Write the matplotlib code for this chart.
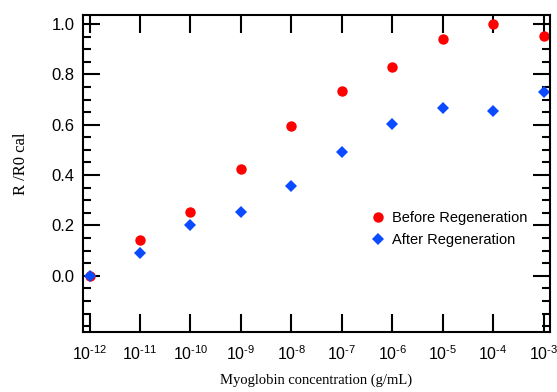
import matplotlib
matplotlib.use("Agg")
import matplotlib.pyplot as plt
from matplotlib.ticker import FixedLocator, MultipleLocator, NullLocator

# data
conc = [1e-12, 1e-11, 1e-10, 1e-9, 1e-8, 1e-7, 1e-6, 1e-5, 1e-4, 1e-3]
before = [0.0, 0.142, 0.253, 0.424, 0.595, 0.734, 0.828, 0.939, 1.0, 0.951]
after = [0.0, 0.09, 0.20, 0.253, 0.356, 0.491, 0.603, 0.666, 0.654, 0.730]
xtick_exps = [-12, -11, -10, -9, -8, -7, -6, -5, -4, -3]
yticks = [0.0, 0.2, 0.4, 0.6, 0.8, 1.0]

plt.rcParams['font.family'] = ['Liberation Sans', 'DejaVu Sans']
plt.rcParams['mathtext.fontset'] = 'custom'
plt.rcParams['mathtext.rm'] = 'Liberation Sans'
plt.rcParams['mathtext.it'] = 'Liberation Sans'

fig = plt.figure(figsize=(5.57, 3.92), dpi=100)
ax = fig.add_axes([0.149, 0.154, 0.838, 0.8085])

ax.plot(conc, before, 'o', color='#ff0000', markersize=7.5, markeredgewidth=0,
        label='Before Regeneration')
ax.plot(conc, after, 'D', color='#0a4bff', markersize=6, markeredgewidth=0,
        label='After Regeneration')

ax.set_xscale('log')
ax.set_xlim(10 ** -12.13, 10 ** -2.88)
ax.set_ylim(-0.222, 1.037)

ax.xaxis.set_major_locator(FixedLocator([10.0 ** e for e in xtick_exps]))
ax.xaxis.set_minor_locator(NullLocator())
ax.set_xticklabels([r'$\mathregular{10^{\text{-}%d}}$' % -e for e in xtick_exps])
ax.yaxis.set_major_locator(FixedLocator(yticks))
ax.yaxis.set_minor_locator(MultipleLocator(0.05))
ax.set_yticklabels(['%.1f' % v for v in yticks])

for s in ax.spines.values():
    s.set_linewidth(1.5)
ax.tick_params(which='major', direction='in', length=12, width=1.5,
               top=True, right=True, labelsize=12, pad=6)
ax.tick_params(which='minor', direction='in', length=6, width=1.5, right=True)
ax.tick_params(axis='x', which='major', length=13, pad=9, labelsize=11.5)

ax.set_ylabel('R /R0 cal', family='Liberation Serif', fontsize=12, labelpad=16,
              y=0.53)
ax.set_xlabel('Myoglobin concentration (g/mL)', family='Liberation Serif',
              fontsize=10.5, labelpad=8)

ax.legend(loc='upper left', bbox_to_anchor=(0.6, 0.40), frameon=False,
          fontsize=10.5, handletextpad=0.4, labelspacing=0.55,
          handlelength=1.2, borderaxespad=0)

fig.savefig('out.png', dpi=100)
